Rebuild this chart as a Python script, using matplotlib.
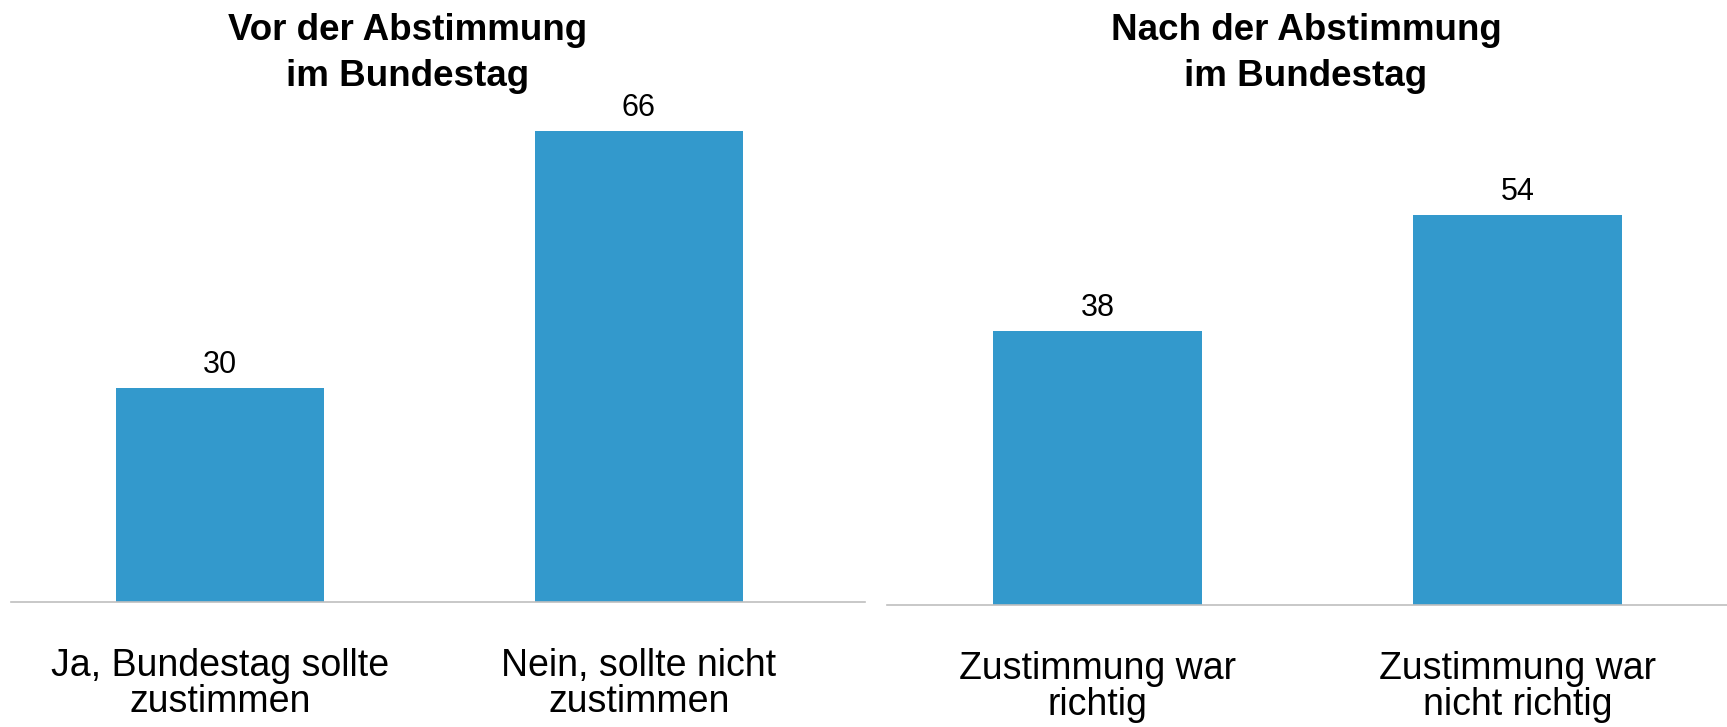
import matplotlib
matplotlib.use('Agg')
import matplotlib.pyplot as plt

plt.rcParams['font.family'] = ['Liberation Sans', 'DejaVu Sans']

# Daten
titel_vor = 'Vor der Abstimmung\nim Bundestag'
kategorien_vor = ['Ja, Bundestag sollte\nzustimmen', 'Nein, sollte nicht\nzustimmen']
werte_vor = [30, 66]

titel_nach = 'Nach der Abstimmung\nim Bundestag'
kategorien_nach = ['Zustimmung war\nrichtig', 'Zustimmung war\nnicht richtig']
werte_nach = [38, 54]

farbe = '#3399CC'

fig = plt.figure(figsize=(17.27, 7.27), dpi=100)

W, H = 1727, 727
# [links, unten, breite, hoehe] in Pixel -> Figurenanteile
ax1 = fig.add_axes([11 / W, (H - 602) / H, 854 / W, 535 / H])
ax2 = fig.add_axes([887 / W, (H - 605) / H, 840 / W, 541 / H])


def panel(ax, kategorien, werte, titel, titel_x, xlim):
    x = range(len(werte))
    bars = ax.bar(x, werte, width=0.497, color=farbe)
    ax.set_xlim(*xlim)
    ax.set_ylim(0, 75)
    for b, w in zip(bars, werte):
        ax.annotate(str(w), (b.get_x() + b.get_width() / 2, w),
                    xytext=(0, 6), textcoords='offset points',
                    ha='center', va='bottom', fontsize=22)
    ax.set_xticks(list(x))
    ax.set_xticklabels(kategorien, fontsize=27, linespacing=1.0)
    ax.tick_params(axis='x', length=0, pad=33)
    ax.set_yticks([])
    for s in ['top', 'right', 'left']:
        ax.spines[s].set_visible(False)
    ax.spines['bottom'].set_color('#BFBFBF')
    ax.spines['bottom'].set_linewidth(1.2)
    fig.text(titel_x / W, 1 - 13 / H, titel, ha='center', va='top',
             fontsize=26.5, fontweight='bold', linespacing=1.42)


panel(ax1, kategorien_vor, werte_vor, titel_vor, 408, (-0.5, 1.54))
panel(ax2, kategorien_nach, werte_nach, titel_nach, 1306, (-0.502, 1.498))

fig.savefig('out.png', dpi=100)
